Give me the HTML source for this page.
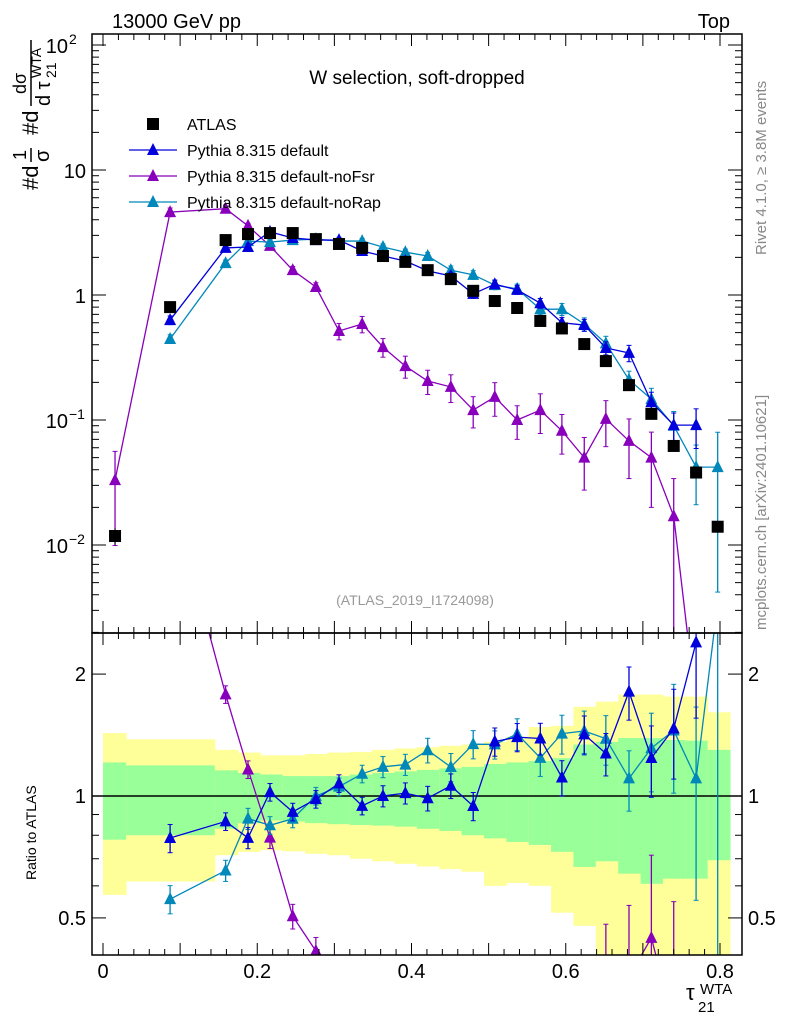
<!DOCTYPE html>
<html><head><meta charset="utf-8"><style>
html,body{margin:0;background:#fff;width:786px;height:1024px;overflow:hidden}
svg{display:block;font-family:"Liberation Sans",sans-serif}
</style></head><body>
<svg id="chart" width="786" height="1024" viewBox="0 0 786 1024">
<defs>
<clipPath id="cm"><rect x="92" y="34" width="650" height="599"/></clipPath>
<clipPath id="cr"><rect x="92" y="633" width="650" height="322"/></clipPath>
</defs>
<g id="bands" clip-path="url(#cr)"></g>
<g id="marks"></g>
<rect x="92" y="34" width="650" height="599" fill="none" stroke="#000" stroke-width="1.5"/>
<rect x="92" y="633" width="650" height="322" fill="none" stroke="#000" stroke-width="1.5"/>
<g id="ticks" stroke="#000" stroke-width="1"></g>
<text x="112" y="28" font-size="20">13000 GeV pp</text>
<text x="730" y="28" font-size="20" text-anchor="end">Top</text>
<text x="417" y="84" font-size="19" text-anchor="middle">W selection, soft-dropped</text>
<text x="415" y="605" font-size="14" fill="#999" text-anchor="middle">(ATLAS_2019_I1724098)</text>
<text transform="translate(766,255) rotate(-90)" font-size="15" fill="#888">Rivet 4.1.0, ≥ 3.8M events</text>
<text transform="translate(766,630) rotate(-90)" font-size="15" fill="#888">mcplots.cern.ch [arXiv:2401.10621]</text>
<g transform="translate(38,190) rotate(-90)" font-size="22">
<text x="-0" y="0">#d</text><text x="30" y="-12" font-size="18">1</text><line x1="28" y1="-7" x2="42" y2="-7" stroke="#000" stroke-width="1.5"/><text x="28" y="11" font-size="20">σ</text>
<text x="55" y="0">#d</text><text x="96" y="-12" font-size="18">dσ</text><line x1="84" y1="-7" x2="150" y2="-7" stroke="#000" stroke-width="1.5"/><text x="84" y="12" font-size="20">d τ</text><text x="112" y="18" font-size="14">21</text><text x="112" y="3" font-size="14">WTA</text>
</g>
<text transform="translate(36,880) rotate(-90)" font-size="14">Ratio to ATLAS</text>
<text x="686" y="1000" font-size="22">τ</text>
<text x="698" y="1012" font-size="15">21</text>
<text x="700" y="994" font-size="15">WTA</text>
<g id="legend"></g>
</svg>
<script>
const edges=[0,0.03,0.145,0.175,0.204,0.233,0.262,0.291,0.32,0.349,0.378,0.407,0.436,0.465,0.494,0.523,0.552,0.581,0.61,0.639,0.668,0.697,0.726,0.755,0.784,0.813];
const centers=[0.0156,0.087,0.159,0.188,0.2165,0.246,0.276,0.306,0.336,0.363,0.392,0.421,0.451,0.48,0.508,0.537,0.567,0.595,0.624,0.652,0.682,0.711,0.740,0.769,0.797];
const atlas=[0.0118,0.80,2.75,3.07,3.13,3.13,2.8,2.56,2.38,2.05,1.84,1.58,1.34,1.08,0.895,0.787,0.62,0.54,0.405,0.296,0.19,0.112,0.062,0.038,0.014];
const pyDefault=[null,0.63,2.38,2.42,3.2,2.86,2.75,2.75,2.25,2.05,1.87,1.56,1.42,1.02,1.22,1.1,0.86,0.6,0.575,0.377,0.344,0.139,0.091,0.091,null];
const pyNoFsr=[0.033,4.6,4.9,3.57,2.47,1.58,1.16,0.515,0.586,0.383,0.27,0.205,0.184,0.12,0.153,0.1,0.12,0.082,0.05,0.102,0.068,0.05,0.017,0.0005,null];
const pyNoRap=[null,0.445,1.8,2.7,2.65,2.75,2.8,2.7,2.7,2.42,2.2,2.05,1.58,1.45,1.2,1.12,0.77,0.77,0.586,0.41,0.21,0.147,0.09,0.042,0.042];
const errDefault=[0,0.08,0.05,0.06,0.05,0.05,0.05,0.05,0.05,0.06,0.06,0.07,0.07,0.08,0.08,0.08,0.09,0.1,0.11,0.12,0.15,0.2,0.25,0.35,0];
const errNoFsr=[0.7,0.08,0.05,0.05,0.06,0.07,0.08,0.15,0.15,0.17,0.2,0.22,0.25,0.28,0.3,0.3,0.35,0.35,0.45,0.4,0.5,0.6,1.0,0.9,0];
const errNoRap=[0,0.08,0.06,0.06,0.05,0.05,0.05,0.05,0.05,0.06,0.06,0.07,0.08,0.08,0.08,0.09,0.1,0.11,0.12,0.14,0.17,0.22,0.3,0.5,0.9];
const yUp=[1.43,1.38,1.30,1.28,1.26,1.26,1.27,1.28,1.285,1.30,1.31,1.32,1.33,1.34,1.36,1.40,1.48,1.49,1.66,1.71,1.78,1.78,1.76,1.76,1.61];
const yDn=[0.57,0.615,0.714,0.728,0.735,0.73,0.72,0.714,0.70,0.69,0.68,0.67,0.66,0.65,0.60,0.61,0.60,0.515,0.478,0.3,0.3,0.3,0.3,0.3,0.3];
const gUp=[1.21,1.19,1.157,1.14,1.13,1.12,1.12,1.12,1.13,1.14,1.15,1.16,1.17,1.18,1.20,1.21,1.22,1.24,1.34,1.36,1.39,1.39,1.375,1.37,1.30];
const gDn=[0.78,0.80,0.83,0.857,0.87,0.865,0.857,0.852,0.848,0.845,0.84,0.83,0.82,0.80,0.786,0.77,0.757,0.728,0.668,0.69,0.643,0.607,0.625,0.625,0.694];
const xTicks=[0,0.2,0.4,0.6,0.8];
const xTickLabels=["0","0.2","0.4","0.6","0.8"];
const mainTicks=[100,10,1,0.1,0.01];
const ratioTicks=[2,1,0.5];
const ratioTickLabels=["2","1","0.5"];

const NS="http://www.w3.org/2000/svg";
const X=v=>103+v*771.25;
const YM=v=>295-125*Math.log10(v);
const YR=r=>796-405*Math.log10(r);
function mk(tag,attrs,parent){const e=document.createElementNS(NS,tag);for(const k in attrs)e.setAttribute(k,attrs[k]);parent.appendChild(e);return e;}
const bands=document.getElementById('bands'),marks=document.getElementById('marks'),ticks=document.getElementById('ticks'),legend=document.getElementById('legend');

for(let i=0;i<25;i++){
  const x0=X(edges[i]),x1=X(edges[i+1]);
  const y=mk('rect',{x:x0,y:YR(yUp[i]),width:x1-x0+0.5,height:YR(yDn[i])-YR(yUp[i]),fill:'#ffff99'},bands);
  
  
  const g=mk('rect',{x:x0,y:YR(gUp[i]),width:x1-x0+0.5,height:YR(gDn[i])-YR(gUp[i]),fill:'#99ff99'},bands);
  
  
}
const one=mk('line',{x1:92,x2:742,y1:YR(1),y2:YR(1),stroke:'#000','stroke-width':1.5},bands);



const mainG=mk('g',{'clip-path':'url(#cm)'},marks);


const ratG=mk('g',{'clip-path':'url(#cr)'},marks);



function tri(parent,x,y,col){const p=mk('polygon',{points:`${x},${y-7} ${x-6},${y+5} ${x+6},${y+5}`,fill:col},parent);return p;}
function drawSeries(vals,errs,col,name,ratioFrom,ratioTo){
  const gm=mk('g',{},mainG);
  
  
  const gr=mk('g',{},ratG);
  
  
  let pm=[],pr=[];
  for(let i=0;i<25;i++){
    const v=vals[i];if(v==null)continue;
    const x=X(centers[i]);
    const r=v/atlas[i];
    const inR=i>=ratioFrom&&i<=ratioTo;
    pm.push(x+','+YM(v));if(inR)pr.push(x+','+YR(r));
    const e=errs[i];
    const lo=Math.max(v*(1-e),1e-4),hi=v*(1+e);
    mk('line',{x1:x,x2:x,y1:YM(lo),y2:YM(hi),stroke:col,'stroke-width':1.3},gm);
    mk('line',{x1:x-2.5,x2:x+2.5,y1:YM(lo),y2:YM(lo),stroke:col},gm);
    mk('line',{x1:x-2.5,x2:x+2.5,y1:YM(hi),y2:YM(hi),stroke:col},gm);
    if(!inR)continue;
    const rl=Math.max(r*(1-e),1e-3),rh=r*(1+e);
    mk('line',{x1:x,x2:x,y1:YR(rl),y2:YR(rh),stroke:col,'stroke-width':1.3},gr);
    mk('line',{x1:x-2.5,x2:x+2.5,y1:YR(rl),y2:YR(rl),stroke:col},gr);
    mk('line',{x1:x-2.5,x2:x+2.5,y1:YR(rh),y2:YR(rh),stroke:col},gr);
  }
  const l1=mk('polyline',{points:pm.join(' '),fill:'none',stroke:col,'stroke-width':1.3},gm);
  
  
  const l2=mk('polyline',{points:pr.join(' '),fill:'none',stroke:col,'stroke-width':1.3},gr);
  
  
  for(let i=0;i<25;i++){const v=vals[i];if(v==null)continue;const x=X(centers[i]);
    const a=tri(gm,x,YM(v),col);
    
    
    if(i<ratioFrom||i>ratioTo)continue;
    const b=tri(gr,x,YR(v/atlas[i]),col);
    
    }
}
drawSeries(pyNoFsr,errNoFsr,'#8800bb','pythia-nofsr',1,22);
drawSeries(pyNoRap,errNoRap,'#0088bb','pythia-norap',0,24);
drawSeries(pyDefault,errDefault,'#0000dd','pythia-default',0,24);
const ga=mk('g',{},mainG);


for(let i=0;i<25;i++){const x=X(centers[i]),y=YM(atlas[i]);
  const s=mk('rect',{x:x-6,y:y-6,width:12,height:12,fill:'#000'},ga);
  
  }
mk('line',{x1:X(centers[0]),x2:X(centers[0]),y1:YM(atlas[0]*0.85),y2:YM(atlas[0]*1.15),stroke:'#000'},ga);

for(let v=0;v<=0.82;v+=0.02){const x=X(v);const maj=Math.abs(v*10-Math.round(v*10))<1e-6;const L=maj?12:6;
  for(const [t,b] of [[34,633],[633,955]]){mk('line',{x1:x,x2:x,y1:b,y2:b-L},ticks);mk('line',{x1:x,x2:x,y1:t,y2:t+L},ticks);} }
xTicks.forEach((v,i)=>{const t=mk('text',{x:X(v),y:978,'font-size':20,'text-anchor':'middle',stroke:'none'},ticks);t.textContent=xTickLabels[i];
  
  });
for(let d=-3;d<=2;d++){for(let m=1;m<10;m++){const v=m*Math.pow(10,d);const y=YM(v);if(y<34||y>633)continue;const L=m==1?14:7;
  mk('line',{x1:92,x2:92+L,y1:y,y2:y},ticks);mk('line',{x1:742,x2:742-L,y1:y,y2:y},ticks);}}
const mainLabels=[["10","2"],["10",""],["1",""],["10","−1"],["10","−2"]];
mainTicks.forEach((v,i)=>{const t=mk('text',{x:mainLabels[i][1]?68:86,y:YM(v)+8,'font-size':20,'text-anchor':'end',stroke:'none'},ticks);
  t.textContent=mainLabels[i][0];
  
  
  if(mainLabels[i][1]){const s=mk('text',{x:69,y:YM(v)-1,'font-size':14,stroke:'none'},ticks);s.textContent=mainLabels[i][1];}});
for(const r of [0.4,0.5,0.6,0.7,0.8,0.9,1,2]){const y=YR(r);if(y<633||y>955)continue;const L=(r==0.5||r==1||r==2)?14:7;
  mk('line',{x1:92,x2:92+L,y1:y,y2:y},ticks);mk('line',{x1:742,x2:742-L,y1:y,y2:y},ticks);}
ratioTicks.forEach((r,i)=>{for(const [x,a] of [[86,'end'],[748,'start']]){const t=mk('text',{x:x,y:YR(r)+7,'font-size':20,'text-anchor':a,stroke:'none'},ticks);t.textContent=ratioTickLabels[i];
  
  }});

const leg=[["ATLAS","#000",1],["Pythia 8.315 default","#0000dd",0],["Pythia 8.315 default-noFsr","#8800bb",0],["Pythia 8.315 default-noRap","#0088bb",0]];
leg.forEach((l,i)=>{const y=124+i*26;const g=mk('g',{},legend);
  
  
  if(l[2]){mk('rect',{x:147,y:y-6,width:12,height:12,fill:'#000'},g);}
  else{mk('line',{x1:129,x2:177,y1:y,y2:y,stroke:l[1],'stroke-width':1.3},g);tri(g,153,y,l[1]);}
  const t=mk('text',{x:187,y:y+6,'font-size':16},g);t.textContent=l[0];});
</script>
</body></html>
